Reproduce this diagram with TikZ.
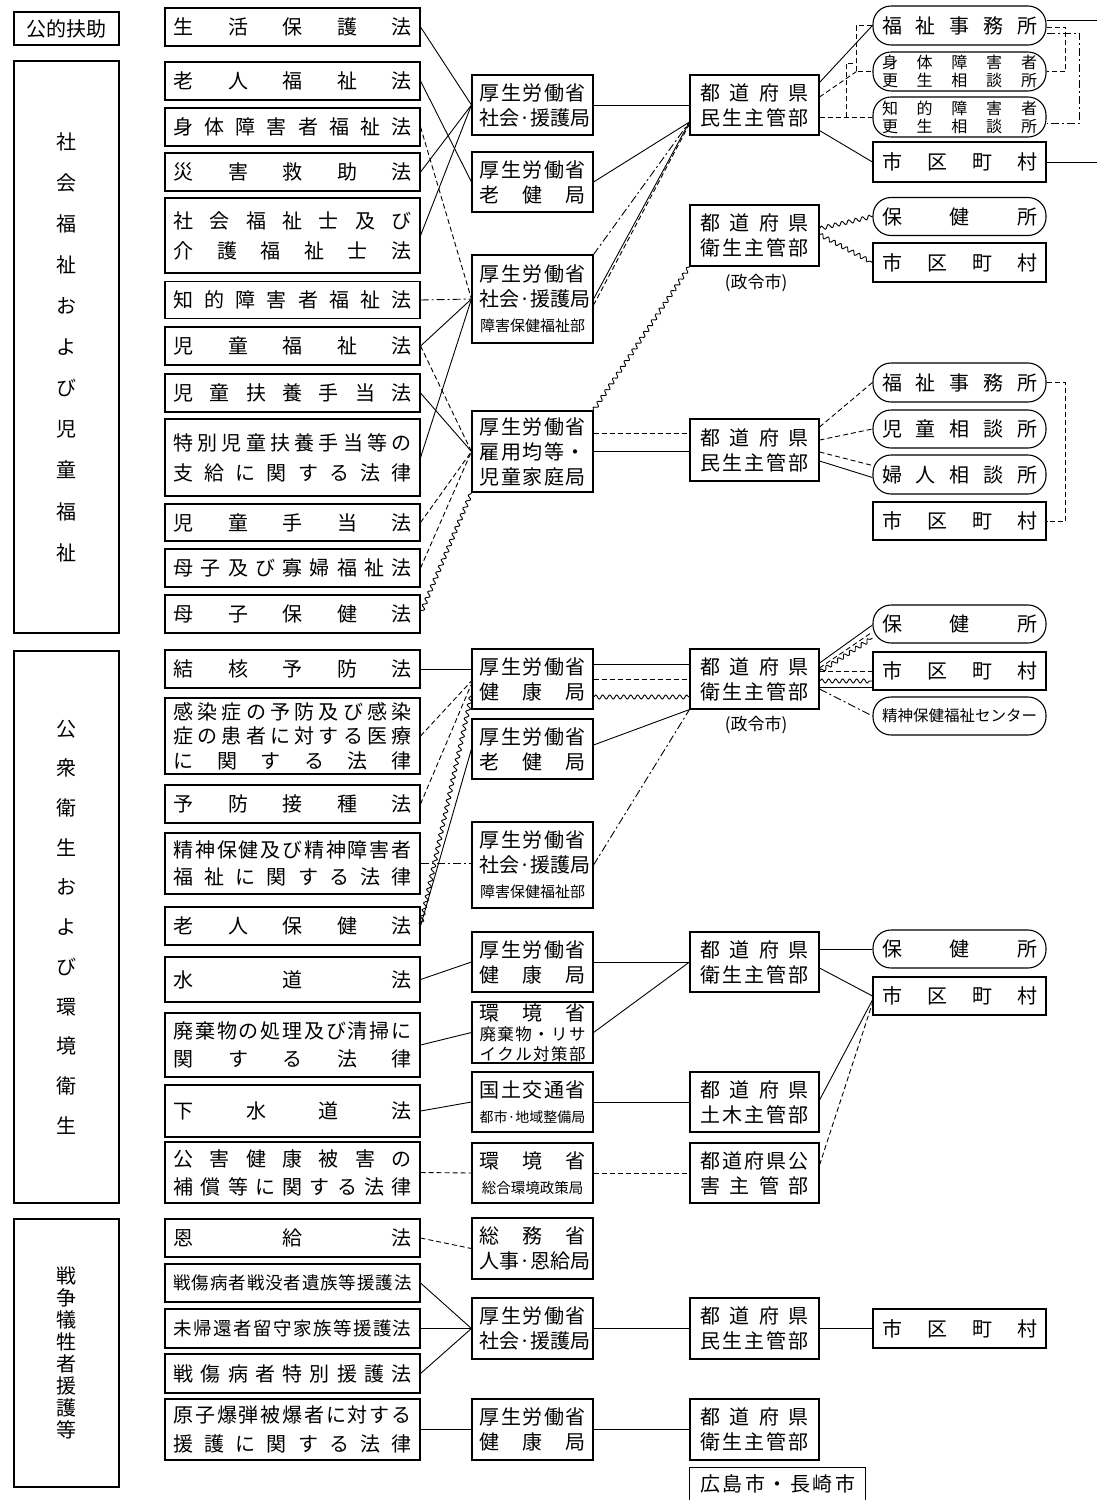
\documentclass[tikz,border=0pt]{standalone}
\usepackage{fontspec}
\setmainfont{Noto Sans CJK JP}
\usetikzlibrary{decorations.pathmorphing}

\newcommand{\lawtxt}[1]{\makebox[238pt][s]{\spaceskip=0pt plus 1fil\relax #1}}
\newcommand{\kyokutxt}[1]{\makebox[106pt][s]{\spaceskip=0pt plus 1fil\relax #1}}
\newcommand{\kentxt}[1]{\makebox[108pt][s]{\spaceskip=0pt plus 1fil\relax #1}}
\newcommand{\shotxt}[1]{\makebox[155pt][s]{\spaceskip=0pt plus 1fil\relax #1}}
\newcommand{\smtxt}{\fontsize{15}{25}\selectfont}

\begin{document}
\begin{tikzpicture}[
    x=1pt, y=-1pt,
    box/.style={draw, line width=1.1pt, inner sep=0pt, align=center,
        font=\fontsize{20}{28}\selectfont},
    cat/.style={box, minimum width=105pt},
    law/.style={box, minimum width=255pt},
    kyoku/.style={box, minimum width=121pt, font=\fontsize{20}{25}\selectfont},
    ken/.style={box, minimum width=129pt, font=\fontsize{20}{25}\selectfont},
    sho/.style={box, minimum width=173pt},
    office/.style={sho, rounded corners=18pt},
    link/.style={line width=0.9pt},
    dashline/.style={link, dash pattern=on 5pt off 3pt},
    chainline/.style={link, dash pattern=on 8pt off 3pt on 2pt off 3pt},
    waveline/.style={link, decorate, decoration={snake, amplitude=2pt, segment length=7pt}}
]
    \useasboundingbox (0,0) rectangle (1097,1500);

    % Categories
    \node[cat, minimum height=33pt] (fujo) at (66.5,28.5) {公的扶助};
    \node[cat, minimum height=572pt, font=\fontsize{20}{41.1}\selectfont] (fukushi) at (66.5,347)
        {社\\会\\福\\祉\\お\\よ\\び\\児\\童\\福\\祉};
    \node[cat, minimum height=552pt, font=\fontsize{20}{39.7}\selectfont] (eisei) at (66.5,927)
        {公\\衆\\衛\\生\\お\\よ\\び\\環\\境\\衛\\生};
    \node[cat, minimum height=268pt, font=\fontsize{20}{22}\selectfont] (senso) at (66.5,1353)
        {戦\\争\\犠\\牲\\者\\援\\護\\等};

    % Laws
    \node[law, minimum height=38pt] (hogo) at (292.5,27) {\lawtxt{生 活 保 護 法}};
    \node[law, minimum height=38pt] (rofuku) at (292.5,81) {\lawtxt{老 人 福 祉 法}};
    \node[law, minimum height=38pt] (shintai) at (292.5,127) {\lawtxt{身 体 障 害 者 福 祉 法}};
    \node[law, minimum height=38pt] (saigai) at (292.5,172) {\lawtxt{災 害 救 助 法}};
    \node[law, minimum height=75pt, font=\fontsize{20}{30}\selectfont] (kaigo) at (292.5,235.5)
        {\lawtxt{社 会 福 祉 士 及 び}\\\lawtxt{介 護 福 祉 士 法}};
    \node[law, minimum height=37pt] (chiteki) at (292.5,300) {\lawtxt{知 的 障 害 者 福 祉 法}};
    \node[law, minimum height=38pt] (jidou) at (292.5,346) {\lawtxt{児 童 福 祉 法}};
    \node[law, minimum height=38pt] (fuyou) at (292.5,393) {\lawtxt{児 童 扶 養 手 当 法}};
    \node[law, minimum height=77pt, font=\fontsize{20}{30}\selectfont] (tokubetsu) at (292.5,457.5)
        {\lawtxt{特 別 児 童 扶 養 手 当 等 の}\\\lawtxt{支 給 に 関 す る 法 律}};
    \node[law, minimum height=37pt] (teate) at (292.5,522.5) {\lawtxt{児 童 手 当 法}};
    \node[law, minimum height=38pt] (boshi) at (292.5,568) {\lawtxt{母 子 及 び 寡 婦 福 祉 法}};
    \node[law, minimum height=38pt] (boshihoken) at (292.5,614) {\lawtxt{母 子 保 健 法}};

    \node[law, minimum height=38pt] (kekkaku) at (292.5,669) {\lawtxt{結 核 予 防 法}};
    \node[law, minimum height=76pt, font=\fontsize{20}{24.5}\selectfont] (kansen) at (292.5,736)
        {\lawtxt{感 染 症 の 予 防 及 び 感 染}\\\lawtxt{症 の 患 者 に 対 す る 医 療}\\\lawtxt{に 関 す る 法 律}};
    \node[law, minimum height=38pt] (yobou) at (292.5,804) {\lawtxt{予 防 接 種 法}};
    \node[law, minimum height=61pt, font=\fontsize{20}{27}\selectfont] (seishin) at (292.5,863.5)
        {\lawtxt{精 神 保 健 及 び 精 神 障 害 者}\\\lawtxt{福 祉 に 関 す る 法 律}};
    \node[law, minimum height=38pt] (rouken) at (292.5,926) {\lawtxt{老 人 保 健 法}};
    \node[law, minimum height=45pt] (suidou) at (292.5,979.5) {\lawtxt{水 道 法}};
    \node[law, minimum height=64pt] (haiki) at (292.5,1045)
        {\lawtxt{廃 棄 物 の 処 理 及 び 清 掃 に}\\\lawtxt{関 す る 法 律}};
    \node[law, minimum height=52pt] (gesui) at (292.5,1111) {\lawtxt{下 水 道 法}};
    \node[law, minimum height=61pt] (kougai) at (292.5,1172.5)
        {\lawtxt{公 害 健 康 被 害 の}\\\lawtxt{補 償 等 に 関 す る 法 律}};

    \node[law, minimum height=38pt] (onkyu) at (292.5,1238) {\lawtxt{恩 給 法}};
    \node[law, minimum height=38pt, font=\fontsize{17.5}{28}\selectfont] (senbotsu) at (292.5,1283)
        {\lawtxt{戦 傷 病 者 戦 没 者 遺 族 等 援 護 法}};
    \node[law, minimum height=39pt, font=\fontsize{18.5}{28}\selectfont] (mikikan) at (292.5,1328.5)
        {\lawtxt{未 帰 還 者 留 守 家 族 等 援 護 法}};
    \node[law, minimum height=39pt] (shoubyou) at (292.5,1373.5) {\lawtxt{戦 傷 病 者 特 別 援 護 法}};
    \node[law, minimum height=61pt, font=\fontsize{20}{29}\selectfont] (genbaku) at (292.5,1429.5)
        {\lawtxt{原 子 爆 弾 被 爆 者 に 対 す る}\\\lawtxt{援 護 に 関 す る 法 律}};

    % Bureaus
    \node[kyoku, minimum height=60pt] (mEngo1) at (532.5,105)
        {\kyokutxt{厚 生 労 働 省}\\\kyokutxt{社 会 · 援 護 局}};
    \node[kyoku, minimum height=60pt] (mRoken1) at (532.5,182)
        {\kyokutxt{厚 生 労 働 省}\\\kyokutxt{老 健 局}};
    \node[kyoku, minimum height=88pt] (mShogai1) at (532.5,299)
        {\kyokutxt{厚 生 労 働 省}\\\kyokutxt{社 会 · 援 護 局}\\{\smtxt 障害保健福祉部}};
    \node[kyoku, minimum height=81pt] (mJido) at (532.5,451.5)
        {\kyokutxt{厚 生 労 働 省}\\\kyokutxt{雇 用 均 等 ・}\\\kyokutxt{児 童 家 庭 局}};
    \node[kyoku, minimum height=60pt] (mKenko1) at (532.5,679)
        {\kyokutxt{厚 生 労 働 省}\\\kyokutxt{健 康 局}};
    \node[kyoku, minimum height=60pt] (mRoken2) at (532.5,749)
        {\kyokutxt{厚 生 労 働 省}\\\kyokutxt{老 健 局}};
    \node[kyoku, minimum height=86pt] (mShogai2) at (532.5,865)
        {\kyokutxt{厚 生 労 働 省}\\\kyokutxt{社 会 · 援 護 局}\\{\smtxt 障害保健福祉部}};
    \node[kyoku, minimum height=60pt] (mKenko2) at (532.5,962)
        {\kyokutxt{厚 生 労 働 省}\\\kyokutxt{健 康 局}};
    \node[kyoku, minimum height=61pt, font=\fontsize{20}{20}\selectfont] (mHaiki) at (532.5,1032.5)
        {\kyokutxt{環 境 省}\\{\fontsize{16.5}{20}\selectfont\kyokutxt{廃 棄 物 ・ リ サ}}\\
         {\fontsize{16.5}{20}\selectfont\kyokutxt{イ ク ル 対 策 部}}};
    \node[kyoku, minimum height=60pt] (mKokudo) at (532.5,1102)
        {\kyokutxt{国 土 交 通 省}\\{\fontsize{14}{25}\selectfont 都市·地域整備局}};
    \node[kyoku, minimum height=60pt] (mSogo) at (532.5,1173)
        {\kyokutxt{環 境 省}\\{\fontsize{14.5}{25}\selectfont 総合環境政策局}};
    \node[kyoku, minimum height=61pt] (mSomu) at (532.5,1248.5)
        {\kyokutxt{総 務 省}\\\kyokutxt{人 事 · 恩 給 局}};
    \node[kyoku, minimum height=61pt] (mEngo2) at (532.5,1328.5)
        {\kyokutxt{厚 生 労 働 省}\\\kyokutxt{社 会 · 援 護 局}};
    \node[kyoku, minimum height=61pt] (mKenko3) at (532.5,1429.5)
        {\kyokutxt{厚 生 労 働 省}\\\kyokutxt{健 康 局}};

    % Prefectures
    \node[ken, minimum height=60pt] (pMinsei1) at (754.5,105)
        {\kentxt{都 道 府 県}\\\kentxt{民 生 主 管 部}};
    \node[ken, minimum height=61pt] (pEisei1) at (754.5,235.5)
        {\kentxt{都 道 府 県}\\\kentxt{衛 生 主 管 部}};
    \node[font=\fontsize{17}{20}\selectfont] (seirei1) at (756,283) {(政令市)};
    \node[ken, minimum height=62pt] (pMinsei2) at (754.5,450)
        {\kentxt{都 道 府 県}\\\kentxt{民 生 主 管 部}};
    \node[ken, minimum height=60pt] (pEisei2) at (754.5,679)
        {\kentxt{都 道 府 県}\\\kentxt{衛 生 主 管 部}};
    \node[font=\fontsize{17}{20}\selectfont] (seirei2) at (756,725) {(政令市)};
    \node[ken, minimum height=60pt] (pEisei3) at (754.5,962)
        {\kentxt{都 道 府 県}\\\kentxt{衛 生 主 管 部}};
    \node[ken, minimum height=60pt] (pDoboku) at (754.5,1102)
        {\kentxt{都 道 府 県}\\\kentxt{土 木 主 管 部}};
    \node[ken, minimum height=60pt] (pKougai) at (754.5,1173)
        {\kentxt{都 道 府 県 公}\\\kentxt{害 主 管 部}};
    \node[ken, minimum height=61pt] (pMinsei3) at (754.5,1328.5)
        {\kentxt{都 道 府 県}\\\kentxt{民 生 主 管 部}};
    \node[ken, minimum height=61pt] (pEisei4) at (754.5,1429.5)
        {\kentxt{都 道 府 県}\\\kentxt{衛 生 主 管 部}};
    \node[ken, draw=none, minimum width=175pt, minimum height=32pt] (pCity) at (777.5,1484)
        {\makebox[155pt][s]{\spaceskip=0pt plus 1fil\relax 広 島 市 ・ 長 崎 市}};
    \draw[line width=1.1pt] (pCity.south west) |- (pCity.north east) -- (pCity.south east);

    % Offices
    \node[office, minimum height=39pt] (fukushi1) at (959.5,25.5) {\shotxt{福 祉 事 務 所}};
    \node[office, minimum height=39pt, font=\fontsize{16}{18}\selectfont] (shintaiSo) at (959.5,71.5)
        {\shotxt{身 体 障 害 者}\\\shotxt{更 生 相 談 所}};
    \node[office, minimum height=40pt, font=\fontsize{16}{18}\selectfont] (chitekiSo) at (959.5,117)
        {\shotxt{知 的 障 害 者}\\\shotxt{更 生 相 談 所}};
    \node[sho, minimum height=40pt] (shichoson1) at (959.5,162) {\shotxt{市 区 町 村}};
    \node[office, minimum height=38pt] (hokenjo1) at (959.5,216.5) {\shotxt{保 健 所}};
    \node[sho, minimum height=39pt] (shichoson2) at (959.5,262.5) {\shotxt{市 区 町 村}};
    \node[office, minimum height=39pt] (fukushi2) at (959.5,382.5) {\shotxt{福 祉 事 務 所}};
    \node[office, minimum height=38pt] (jidoSo) at (959.5,429) {\shotxt{児 童 相 談 所}};
    \node[office, minimum height=39pt] (fujinSo) at (959.5,474.5) {\shotxt{婦 人 相 談 所}};
    \node[sho, minimum height=38pt] (shichoson3) at (959.5,521) {\shotxt{市 区 町 村}};
    \node[office, minimum height=38pt] (hokenjo2) at (959.5,624) {\shotxt{保 健 所}};
    \node[sho, minimum height=38pt] (shichoson4) at (959.5,671) {\shotxt{市 区 町 村}};
    \node[office, minimum height=38pt, font=\fontsize{15.5}{18}\selectfont] (center) at (959.5,716)
        {精神保健福祉センター};
    \node[office, minimum height=38pt] (hokenjo3) at (959.5,949) {\shotxt{保 健 所}};
    \node[sho, minimum height=38pt] (shichoson5) at (959.5,996) {\shotxt{市 区 町 村}};
    \node[sho, minimum height=39pt] (shichoson6) at (959.5,1328.5) {\shotxt{市 区 町 村}};

    % Laws to bureaus (welfare)
    \draw[link] (hogo.east) -- (mEngo1.west);
    \draw[link] (saigai.east) -- (mEngo1.west);
    \draw[link] (kaigo.east) -- (mEngo1.west);
    \draw[link] (rofuku.east) -- (mRoken1.west);
    \draw[dashline] (shintai.east) -- (mShogai1.west);
    \draw[chainline] (chiteki.east) -- (mShogai1.west);
    \draw[link] (jidou.east) -- (mShogai1.west);
    \draw[link] (tokubetsu.east) -- (mShogai1.west);
    \draw[dashline] (jidou.east) -- (mJido.west);
    \draw[link] (fuyou.east) -- (mJido.west);
    \draw[dashline] (teate.east) -- (mJido.west);
    \draw[dashline] (boshi.east) -- (mJido.west);
    \draw[waveline] (boshihoken.east) -- (mJido.south west);

    % Bureaus to prefectures (welfare)
    \coordinate (minseiIn) at ([yshift=-17pt]pMinsei1.west);
    \coordinate (jidoDash) at ([yshift=18pt]mJido.east);
    \draw[link] (mEngo1.east) -- (pMinsei1.west);
    \draw[link] (mRoken1.east) -- (minseiIn);
    \draw[chainline] (mShogai1.north east) -- (minseiIn);
    \draw[link] (mShogai1.east) -- (minseiIn);
    \draw[dashline] ([yshift=-6pt]mShogai1.east) -- ([yshift=-2pt]minseiIn);
    \draw[waveline] (mJido.north east) -- (pEisei1.south west);
    \draw[dashline] (jidoDash) -- (jidoDash -| pMinsei2.west);
    \draw[link] (mJido.east) -- (mJido.east -| pMinsei2.west);

    % Prefectures to offices (welfare)
    \coordinate (bkA) at ([xshift=-16pt]fukushi1.west);
    \coordinate (bkB) at (bkA |- shintaiSo.west);
    \coordinate (bkC) at ([xshift=-26pt]chitekiSo.west);
    \coordinate (edge1) at (1097,20.5);
    \coordinate (edge2) at (1097,162);
    \draw[link] ([yshift=-8pt]pMinsei1.north east) -- (fukushi1.west);
    \draw[link] ([yshift=5pt]pMinsei1.south east) -- (shichoson1.west);
    \draw[dashline] (fukushi1.west) -- (bkA) -- (bkB) -- (shintaiSo.west);
    \draw[dashline] ([yshift=8pt]pMinsei1.east) -- (bkB);
    \draw[dashline] (chitekiSo.west -| pMinsei1.east) -- (chitekiSo.west);
    \draw[dashline] (bkC) -- ++(0,-54) -- ++(10,0);
    \draw[link] (edge1 -| fukushi1.east) -- (edge1);
    \draw[dashline] ([yshift=-1.5pt]fukushi1.east) -| ([xshift=19pt]shintaiSo.east) -- (shintaiSo.east);
    \draw[chainline] ([yshift=-7.5pt]fukushi1.east) -| ([xshift=33pt,yshift=-6pt]chitekiSo.east)
        -- ([yshift=-6pt]chitekiSo.east);
    \draw[link] (shichoson1.east) -- (edge2);

    \draw[waveline] ([yshift=7pt]pEisei1.east) -- (hokenjo1.west);
    \draw[waveline] ([yshift=1pt]pEisei1.east) -- (shichoson2.west);

    \draw[dashline] ([yshift=23pt]pMinsei2.east) -- (fukushi2.west);
    \draw[dashline] ([yshift=10pt]pMinsei2.east) -- (jidoSo.west);
    \draw[dashline] ([yshift=-2pt]pMinsei2.east) -- ([yshift=9pt]fujinSo.west);
    \draw[link] ([yshift=-11pt]pMinsei2.east) -- ([yshift=-3pt]fujinSo.west);
    \draw[dashline] (fukushi2.east) -| ([xshift=19pt]shichoson3.east) -- (shichoson3.east);

    % Public health
    \draw[link] (kekkaku.east) -- (kekkaku.east -| mKenko1.west);
    \draw[dashline] (kansen.east) -- ([yshift=-2pt]mKenko1.west);
    \draw[dashline] (yobou.east) -- ([yshift=-5pt]mKenko1.west);
    \draw[waveline] (rouken.east) -- ([yshift=-16pt]mKenko1.west);
    \draw[link] (rouken.east) -- (mRoken2.west);
    \draw[chainline] (seishin.east) -- (seishin.east -| mShogai2.west);

    \draw[link] ([yshift=15pt]mKenko1.east) -- ([yshift=15pt]pEisei2.west);
    \draw[dashline] (mKenko1.east) -- (pEisei2.west);
    \draw[waveline] ([yshift=-18pt]mKenko1.east) -- ([yshift=-18pt]pEisei2.west);
    \draw[link] ([yshift=4pt]mRoken2.east) -- (pEisei2.south west);
    \draw[chainline] (mShogai2.east) -- (pEisei2.south west);

    \draw[link] ([yshift=16pt]pEisei2.east) -- ([yshift=-1pt]hokenjo2.west);
    \draw[dashline] ([yshift=11pt]pEisei2.east) -- ([yshift=-8pt]hokenjo2.west);
    \draw[waveline] ([yshift=7pt]pEisei2.east) -- ([yshift=-14pt]hokenjo2.west);
    \draw[dashline] (shichoson4.west -| pEisei2.east) -- (shichoson4.west);
    \draw[waveline] ([yshift=-2pt]pEisei2.east) -- ([yshift=-10pt]shichoson4.west);
    \draw[link] ([yshift=-8pt]pEisei2.east) -- ([yshift=-16pt]shichoson4.west);
    \draw[chainline] ([yshift=-10pt]pEisei2.east) -- (center.west);

    % Environmental health
    \draw[link] (suidou.east) -- (mKenko2.west);
    \draw[link] (haiki.east) -- (mHaiki.west);
    \draw[link] (gesui.east) -- (mKokudo.west);
    \draw[dashline] (kougai.east) -- (mSogo.west);
    \draw[link] (mKenko2.east) -- (pEisei3.west);
    \draw[link] (mHaiki.east) -- (pEisei3.west);
    \draw[link] (mKokudo.east) -- (pDoboku.west);
    \draw[dashline] (mSogo.east) -- (pKougai.west);
    \draw[link] (hokenjo3.west -| pEisei3.east) -- (hokenjo3.west);
    \draw[link] ([yshift=-6pt]pEisei3.east) -- (shichoson5.west);
    \draw[link] ([yshift=2pt]pDoboku.east) -- ([yshift=-4pt]shichoson5.west);
    \draw[dashline] ([yshift=8pt]pKougai.east) -- ([yshift=-7pt]shichoson5.west);

    % War victims
    \draw[dashline] (onkyu.east) -- (mSomu.west);
    \draw[link] (senbotsu.east) -- (mEngo2.west);
    \draw[link] (mikikan.east) -- (mEngo2.west);
    \draw[link] (shoubyou.east) -- (mEngo2.west);
    \draw[link] (genbaku.east) -- (mKenko3.west);
    \draw[link] (mEngo2.east) -- (pMinsei3.west);
    \draw[link] (mKenko3.east) -- (pEisei4.west);
    \draw[link] (pMinsei3.east) -- (shichoson6.west);

\end{tikzpicture}
\end{document}
